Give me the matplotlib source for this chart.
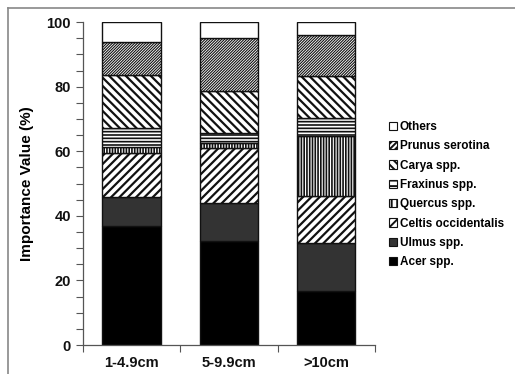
import matplotlib
matplotlib.use("Agg")
import matplotlib.pyplot as plt
import numpy as np
from matplotlib.patches import Patch
from matplotlib.lines import Line2D

plt.rcParams['font.family'] = ['Liberation Sans', 'DejaVu Sans']
plt.rcParams['hatch.linewidth'] = 1.4

categories = ["1-4.9cm", "5-9.9cm", ">10cm"]
species = ["Acer spp.", "Ulmus spp.", "Celtis occidentalis", "Quercus spp.",
           "Fraxinus spp.", "Carya spp.", "Prunus serotina", "Others"]
acer = [36.8, 32.2, 16.7]
ulmus = [9.0, 11.9, 14.8]
celtis = [13.6, 16.8, 14.7]
quercus = [2.0, 1.5, 18.5]
fraxinus = [5.7, 3.1, 5.5]
carya = [16.5, 13.2, 13.2]
prunus = [10.1, 16.5, 12.6]
others = [6.3, 4.8, 4.0]
values = [acer, ulmus, celtis, quercus, fraxinus, carya, prunus, others]

faces = ["black", "#333333", "white", "white", "white", "white", "white", "white"]
hatches = [None, None, "////", "||||||", "-----", "\\\\\\\\", "////////////", None]
hatch_lw = [1.4, 1.4, 1.6, 1.2, 1.2, 1.6, 0.8, 1.4]
legend_hatches = [None, None, "////", "|||", "---", "\\\\\\\\", "//////", None]
legend_hlw = [1.0, 1.0, 1.0, 1.0, 1.0, 1.0, 0.7, 1.0]


def set_hlw(patch, lw):
    if hasattr(patch, "set_hatch_linewidth"):
        try:
            patch.set_hatch_linewidth(lw)
        except Exception:
            pass


fig = plt.figure(figsize=(5.15, 3.74), dpi=100)
ax = fig.add_axes([0.161, 0.0775, 0.567, 0.8635])

x = np.arange(len(categories))
bottom = np.zeros(len(categories))
for vals, fc, h, hl in zip(values, faces, hatches, hatch_lw):
    bars = ax.bar(x, vals, width=0.6, bottom=bottom, color=fc, edgecolor="#111111",
                  hatch=h, linewidth=1.0)
    for b in bars:
        set_hlw(b, hl)
    bottom += np.array(vals)

ax.set_xlim(-0.5, 2.5)
ax.set_ylim(0, 100)
ax.set_yticks(np.arange(0, 101, 20))
ax.set_yticks(np.arange(0, 101, 5), minor=True)
ax.tick_params(axis='y', which='both', direction='out', length=5, width=0.8,
               colors="#555555", labelcolor="#111111", labelsize=10.5)
ax.set_yticklabels([str(v) for v in range(0, 101, 20)], fontweight='bold')
ax.set_xticks(np.arange(-0.5, 2.6, 1.0))
ax.set_xticklabels([])
ax.set_xticks(x, minor=True)
ax.set_xticklabels(categories, minor=True, fontweight='bold', fontsize=10.5)
ax.tick_params(axis='x', which='major', direction='out', length=5, width=0.8, colors="#555555")
ax.tick_params(axis='x', which='minor', length=0, pad=8, labelcolor="#111111")
for s in ['top', 'right']:
    ax.spines[s].set_visible(False)
for s in ['left', 'bottom']:
    ax.spines[s].set_color("#555555")
    ax.spines[s].set_linewidth(0.9)
ax.set_ylabel("Importance Value (%)", fontweight='bold', fontsize=11, labelpad=9)

handles = []
for fc, h, hl in zip(faces, legend_hatches, legend_hlw):
    p = Patch(facecolor=fc, edgecolor="#111111", hatch=h, linewidth=0.8)
    set_hlw(p, hl)
    handles.append(p)
leg = fig.legend(handles[::-1], species[::-1], loc='upper left',
                 bbox_to_anchor=(0.735, 0.705), frameon=False,
                 handlelength=0.7, handleheight=0.7, handletextpad=0.2,
                 labelspacing=0.62, prop={'weight': 'bold', 'size': 8.5})

fig.add_artist(Line2D([0.016, 0.016], [0.0, 0.979], color="#888888", lw=1.2,
                      transform=fig.transFigure))
fig.add_artist(Line2D([0.016, 1.0], [0.979, 0.979], color="#888888", lw=1.2,
                      transform=fig.transFigure))

fig.savefig("out.png", dpi=100)
